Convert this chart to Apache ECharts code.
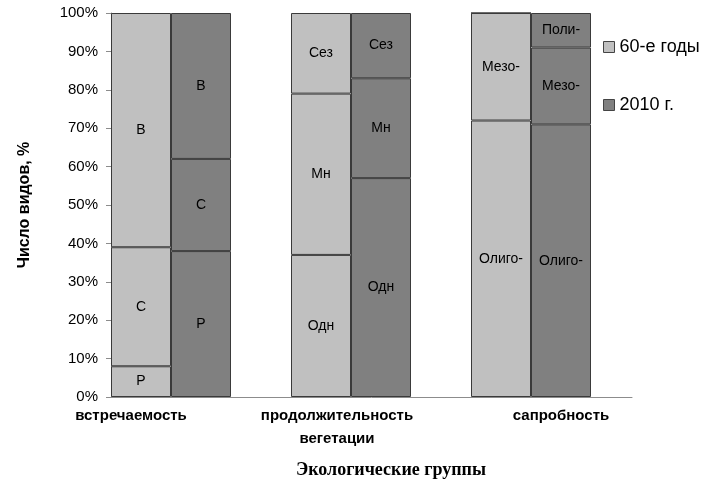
<!DOCTYPE html>
<html>
<head>
<meta charset="utf-8">
<script src="https://cdn.jsdelivr.net/npm/echarts@6/dist/echarts.min.js"></script>
<style>
  html, body { margin: 0; padding: 0; background: #fff; }
  #chart { width: 710px; height: 481px; }
</style>
</head>
<body>
<div id="chart"></div>
<script>
// экологические группы
const categories = ["встречаемость", "продолжительность\nвегетации", "сапробность"];

// подписи сегментов (снизу вверх)
const bottomNames = ["Р", "Одн", "Олиго-"];
const middleNames = ["С", "Мн", "Мезо-"];
const topNames = ["В", "Сез", "Поли-"];

// 60-е годы, %
const old60Bottom = [8, 37, 72];
const old60Middle = [31, 42, 28];
const old60Top = [61, 21, 0];

// 2010 г., %
const new2010Bottom = [38, 57, 71];
const new2010Middle = [24, 26, 20];
const new2010Top = [38, 17, 9];

const yTicks = [0, 10, 20, 30, 40, 50, 60, 70, 80, 90, 100];

const LIGHT = "#c0c0c0";
const DARK = "#808080";

const makeSeries = (name, stack, color, values, names) => ({
  name,
  type: "bar",
  stack,
  data: values,
  barGap: 0,
  barCategoryGap: 0,
  itemStyle: { color, borderColor: "#3a3a3a", borderWidth: 1 },
  label: {
    show: true,
    position: "inside",
    color: "#000",
    fontFamily: "Liberation Sans",
    fontSize: 14,
    formatter: p => (p.value ? names[p.dataIndex] : ""),
  },
  emphasis: { disabled: true },
});

const catLabel = pad => ({
  fontFamily: "Liberation Sans",
  fontWeight: "bold",
  fontSize: 15,
  color: "#000",
  padding: pad,
  lineHeight: 23,
});

const option = {
  animation: false,
  grid: [
    { left: 111, top: 13, bottom: 84, width: 540, outerBoundsMode: "none" },
    // только линия оси X, как в оригинале она короче
    { left: 111, top: 13, bottom: 84, width: 521, outerBoundsMode: "none" },
  ],
  legend: {
    orient: "vertical",
    left: 603,
    top: 38,
    padding: 0,
    itemWidth: 11,
    itemHeight: 11,
    itemGap: 40,
    icon: "rect",
    data: ["60-е годы", "2010 г."],
    textStyle: { fontFamily: "Liberation Sans", fontSize: 18, color: "#000" },
    itemStyle: { borderColor: "#444", borderWidth: 1 },
  },
  xAxis: [
    {
      type: "category",
      data: categories,
      gridIndex: 0,
      axisLine: { show: false },
      axisTick: { show: false },
      axisLabel: {
        interval: 0,
        margin: 7,
        formatter: (v, i) =>
          v
            .split("\n")
            .map(s => `{c${i}|${s}}`)
            .join("\n"),
        rich: {
          c0: catLabel([0, 140, 0, 0]),
          c1: catLabel([0, 88, 0, 0]),
          c2: catLabel([0, 0, 0, 0]),
        },
      },
      name: "Экологические группы",
      nameLocation: "middle",
      nameGap: 64,
      nameTextStyle: {
        fontFamily: "Liberation Serif",
        fontWeight: "bold",
        fontSize: 18,
        color: "#000",
        padding: [0, 0, 0, 20],
      },
    },
    {
      type: "value",
      gridIndex: 1,
      axisLine: { show: true, lineStyle: { color: "#8c8c8c", width: 1 } },
      axisTick: { show: false },
      axisLabel: { show: false },
      splitLine: { show: false },
    },
  ],
  yAxis: [
    {
      type: "value",
      gridIndex: 0,
      min: yTicks[0],
      max: yTicks[yTicks.length - 1],
      interval: yTicks[1] - yTicks[0],
      axisLine: { show: true, lineStyle: { color: "#8c8c8c" } },
      axisTick: { show: true, length: 5, lineStyle: { color: "#8c8c8c" } },
      splitLine: { show: false },
      axisLabel: {
        formatter: "{value}%",
        fontFamily: "Liberation Sans",
        fontSize: 15,
        color: "#000",
        margin: 13,
      },
      name: "Число видов, %",
      nameLocation: "middle",
      nameGap: 78,
      nameTextStyle: {
        fontFamily: "Liberation Sans",
        fontWeight: "bold",
        fontSize: 16,
        color: "#000",
      },
    },
    { type: "value", gridIndex: 1, show: false },
  ],
  series: [
    makeSeries("60-е годы", "p60", LIGHT, old60Bottom, bottomNames),
    makeSeries("60-е годы", "p60", LIGHT, old60Middle, middleNames),
    makeSeries("60-е годы", "p60", LIGHT, old60Top, topNames),
    makeSeries("2010 г.", "p2010", DARK, new2010Bottom, bottomNames),
    makeSeries("2010 г.", "p2010", DARK, new2010Middle, middleNames),
    makeSeries("2010 г.", "p2010", DARK, new2010Top, topNames),
    // пустой стек - промежуток между группами
    { name: "gap", type: "bar", stack: "gap", data: ["-", "-", "-"], barGap: 0, barCategoryGap: 0, silent: true },
  ],
};

const myChart = echarts.init(document.getElementById("chart"), null, { renderer: "canvas" });
option && myChart.setOption(option);
</script>
</body>
</html>
